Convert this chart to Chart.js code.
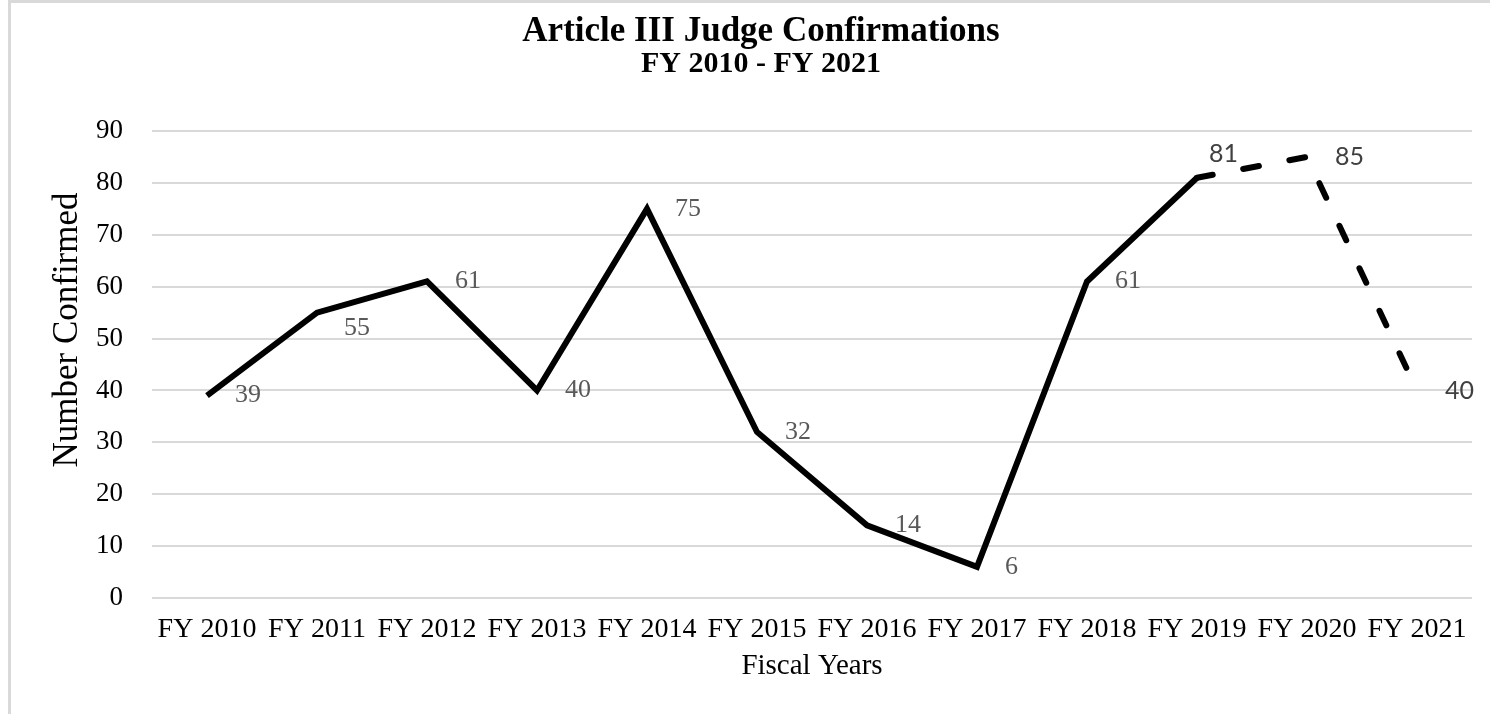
<!DOCTYPE html>
<html>
<head>
<meta charset="utf-8">
<title>Article III Judge Confirmations</title>
<script src="https://cdn.jsdelivr.net/npm/chart.js@4.4.1/dist/chart.umd.min.js"></script>
<style>
  body { margin: 0; background: #fff; }
  #wrap { position: relative; width: 1490px; height: 714px; }
  #frame { position: absolute; left: 8px; top: 0; right: -10px; bottom: -10px;
           border-left: 3px solid #d9d9d9; border-top: 3px solid #d9d9d9; pointer-events: none; }
</style>
</head>
<body>
<div id="wrap">
  <canvas id="judgeChart"></canvas>
  <div id="frame"></div>
</div>
<script>
// data
const fiscalYears = ['FY 2010', 'FY 2011', 'FY 2012', 'FY 2013', 'FY 2014', 'FY 2015',
                     'FY 2016', 'FY 2017', 'FY 2018', 'FY 2019', 'FY 2020', 'FY 2021'];
const confirmed = [39, 55, 61, 40, 75, 32, 14, 6, 61, 81, 85, 40];
const yMin = 0, yMax = 90, yStep = 10;

const SERIF = '"Liberation Serif", "Times New Roman", serif';
const SANS = 'Lato, "Noto Sans", sans-serif';
const DASH_FROM = 9; // dashed from FY 2019 on

// data labels: placed right of each point, a few nudged like in the original
const labelNudge = { 1: [27, 16], 9: [12, -24] };
const valueLabels = {
    id: 'valueLabels',
    afterDatasetsDraw(chart) {
        const { ctx } = chart;
        const meta = chart.getDatasetMeta(0);
        ctx.save();
        ctx.textAlign = 'left';
        ctx.textBaseline = 'middle';
        meta.data.forEach((pt, i) => {
            const [dx, dy] = labelNudge[i] || [28, 0];
            if (i >= DASH_FROM) {
                ctx.font = '25px ' + SANS;
                ctx.fillStyle = '#404040';
            } else {
                ctx.font = '26px ' + SERIF;
                ctx.fillStyle = '#595959';
            }
            ctx.fillText(String(confirmed[i]), pt.x + dx, pt.y + dy);
        });
        ctx.restore();
    }
};

// y axis title sits a bit above the middle of the axis in the original
const yTitle = {
    id: 'yTitle',
    afterDraw(chart) {
        const { ctx } = chart;
        ctx.save();
        ctx.translate(68, 330);
        ctx.rotate(-Math.PI / 2);
        ctx.font = '35px ' + SERIF;
        ctx.fillStyle = '#000';
        ctx.textAlign = 'center';
        ctx.textBaseline = 'middle';
        ctx.fillText('Number Confirmed', 0, 0);
        ctx.restore();
    }
};

new Chart(document.getElementById('judgeChart'), {
    type: 'line',
    data: {
        labels: fiscalYears,
        datasets: [{
            data: confirmed,
            borderColor: '#000',
            borderWidth: 6,
            borderJoinStyle: 'miter',
            pointRadius: 0,
            tension: 0,
            segment: {
                borderDash: c => c.p0DataIndex >= DASH_FROM ? [16, 31] : undefined,
                borderCapStyle: c => c.p0DataIndex >= DASH_FROM ? 'round' : 'butt'
            }
        }]
    },
    options: {
        responsive: true,
        maintainAspectRatio: false,
        animation: false,
        layout: { padding: { left: 50, right: 18, top: 0, bottom: 0 } },
        plugins: {
            legend: { display: false },
            tooltip: { enabled: false },
            title: {
                display: true,
                text: 'Article III Judge Confirmations',
                color: '#000',
                font: { family: SERIF, size: 35, weight: 'bold', lineHeight: 1 },
                padding: { top: 14, bottom: 0 }
            },
            subtitle: {
                display: true,
                text: 'FY 2010 - FY 2021',
                color: '#000',
                font: { family: SERIF, size: 30, weight: 'bold', lineHeight: 1 },
                padding: { top: 0, bottom: 52 }
            }
        },
        scales: {
            x: {
                offset: true,
                grid: { display: false },
                border: { display: false },
                ticks: { color: '#000', font: { family: SERIF, size: 28 }, padding: 7, maxRotation: 0, autoSkip: false },
                title: {
                    display: true,
                    text: 'Fiscal Years',
                    color: '#000',
                    font: { family: SERIF, size: 29 },
                    padding: { top: 0, bottom: 30 }
                },
                afterFit: s => { s.height = 116; }
            },
            y: {
                min: yMin,
                max: yMax,
                grid: { color: '#d9d9d9', lineWidth: 2, drawTicks: false },
                border: { display: false },
                ticks: { stepSize: yStep, color: '#000', font: { family: SERIF, size: 27 }, padding: 29 },
                afterFit: s => { s.width = 102; }
            }
        }
    },
    plugins: [valueLabels, yTitle]
});
</script>
</body>
</html>
